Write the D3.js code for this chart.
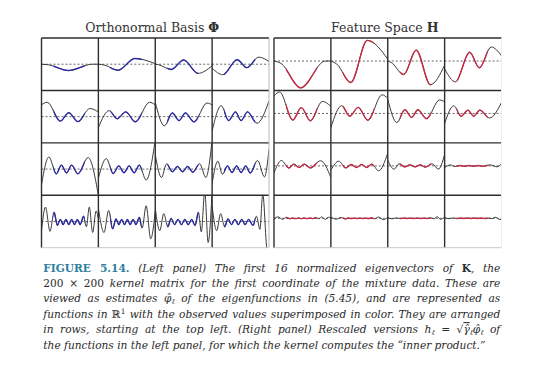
<!DOCTYPE html>
<html>
<head>
<meta charset="utf-8">
<script src="https://cdn.jsdelivr.net/npm/d3@7"></script>
<style>
  body { margin: 0; background: #fff; }
  svg { display: block; }
</style>
</head>
<body>
<svg id="fig" width="540" height="385"></svg>
<script>
// eigenvectors: [x in cell 0..1, value], rows from top left
var phi01 = [[0,0],[0.12,-0.02],[0.47,-0.24],[0.9,0],[1,0]]
var phi02 = [[0,0],[0.1,-0.03],[0.35,-0.23],[0.64,0.22],[1,0.02]]
var phi03 = [[0,0],[0.06,-0.02],[0.28,-0.2],[0.5,0.16],[0.75,-0.35],[1,-0.06]]
var phi04 = [[0,-0.15],[0.19,-0.4],[0.44,0.17],[0.61,-0.13],[0.82,0.27],[1,0.1]]
var phi05 = [[0,0.45],[0.1,0.55],[0.33,-0.17],[0.48,0.15],[0.64,-0.19],[0.85,0.31],[1,0.18]]
var phi06 = [[0,-0.42],[0.19,0.23],[0.33,-0.08],[0.48,0.18],[0.65,-0.2],[0.9,0.55],[1,0.45]]
var phi07 = [[0,0.55],[0.16,-0.35],[0.3,0.14],[0.42,-0.15],[0.53,0.14],[0.68,-0.2],[0.91,0.52],[1,0.45]]
var phi08 = [[0,-0.55],[0.16,0.42],[0.29,-0.15],[0.41,0.18],[0.51,-0.15],[0.62,0.18],[0.79,-0.25],[1,0.6]]
var phi09 = [[0,-0.6],[0.13,0.46],[0.26,-0.18],[0.35,0.15],[0.44,-0.15],[0.53,0.15],[0.64,-0.18],[0.82,0.44],[1,-1.0]]
var phi10 = [[0,-0.35],[0.14,0.4],[0.26,-0.17],[0.36,0.12],[0.45,-0.14],[0.54,0.12],[0.63,-0.14],[0.72,0.15],[0.84,-0.42],[1,1.1]]
var phi11 = [[0,0.55],[0.11,-0.32],[0.2,0.2],[0.3,-0.1],[0.39,0.1],[0.48,-0.1],[0.57,0.1],[0.66,-0.12],[0.78,0.2],[0.89,-0.32],[1,1.1]]
var phi12 = [[0,-0.55],[0.1,0.3],[0.18,-0.2],[0.27,0.12],[0.35,-0.13],[0.43,0.12],[0.51,-0.13],[0.59,0.12],[0.67,-0.15],[0.8,0.33],[0.92,-0.3],[1,0.75]]
var phi13 = [[0,-0.35],[0.07,0.55],[0.15,-0.38],[0.22,0.35],[0.28,-0.15],[0.33,0.08],[0.38,-0.12],[0.43,0.08],[0.48,-0.12],[0.53,0.08],[0.58,-0.12],[0.63,0.08],[0.68,-0.12],[0.74,0.2],[0.79,-0.2],[0.84,0.55],[0.9,-0.42],[0.96,0.4],[1,0.1]]
var phi14 = [[0,0.5],[0.1,-0.42],[0.18,0.42],[0.25,-0.28],[0.31,0.1],[0.36,-0.12],[0.41,0.08],[0.46,-0.12],[0.51,0.08],[0.56,-0.12],[0.61,0.08],[0.66,-0.12],[0.72,0.15],[0.77,-0.25],[0.84,0.6],[0.92,-0.66],[1,0.4]]
var phi15 = [[0,0.5],[0.08,-0.35],[0.15,0.3],[0.22,-0.2],[0.28,0.12],[0.34,-0.12],[0.4,0.08],[0.46,-0.12],[0.52,0.08],[0.58,-0.12],[0.64,0.08],[0.7,-0.15],[0.76,0.35],[0.81,-0.4],[0.87,1.15],[0.93,-0.8],[1,1.2]]
var phi16 = [[0,0.6],[0.08,-0.35],[0.15,0.3],[0.22,-0.2],[0.28,0.1],[0.34,-0.12],[0.4,0.08],[0.46,-0.12],[0.52,0.08],[0.58,-0.12],[0.64,0.08],[0.72,-0.15],[0.78,0.2],[0.84,-0.3],[0.89,1.05],[0.97,-1.1],[1,-1.0]]
var eigenvectors = [phi01, phi02, phi03, phi04, phi05, phi06, phi07, phi08,
                    phi09, phi10, phi11, phi12, phi13, phi14, phi15, phi16]

// sqrt(gamma_l) used to rescale each eigenvector for the right panel
var sqrtGamma = [4.3, 3.6, 2.6, 2.0, 1.5, 1.3, 1.0, 0.7, 0.45, 0.45, 0.4, 0.12, 0.1, 0.08, 0.05, 0.04]

// part of the x range where the observed values sit
var observedRange = [0.21, 0.76]

var panelTitles = ["Orthonormal Basis ", "Feature Space "]
var panelSymbols = ["\u03A6", "H"]
var panelColors = ["#2c2ca4", "#c42a45"]

// caption, one array of [text, style] runs per printed line
var caption1 = [["FIGURE 5.14.", "fig"], [" (Left panel) The first 16 normalized eigenvectors of ", "it"], ["K", "bf"], [", the", "it"]]
var caption2 = [["200 \u00D7 200", "rm"], [" kernel matrix for the first coordinate of the mixture data. These are", "it"]]
var caption3 = [["viewed as estimates ", "it"], ["\u03C6\u0302", "it"], ["\u2113", "sub"], [" of the eigenfunctions in (5.45), and are represented as", "it"]]
var caption4 = [["functions in ", "it"], ["\u211D", "rm"], ["1", "sup"], [" with the observed values superimposed in color. They are arranged", "it"]]
var caption5 = [["in rows, starting at the top left. (Right panel) Rescaled versions ", "it"], ["h", "it"], ["\u2113", "sub"], [" = \u221A", "rm"], ["\u03B3\u0302", "ol"], ["\u2113", "sub"], ["\u03C6\u0302", "it"], ["\u2113", "sub"], [" of", "it"]]
var caption6 = [["the functions in the left panel, for which the kernel computes the \u201Cinner product.\u201D", "it"]]
var captionLines = [caption1, caption2, caption3, caption4, caption5, caption6]

var svg = d3.select("#fig")
var serif = "'DejaVu Serif', 'Liberation Serif', serif"

var panels = [{x0: 41.5, x1: 269}, {x0: 274, x1: 501.5}]
var gridTop = 38, gridBottom = 247.7

var row = d3.scaleLinear().domain([0, 4]).range([gridTop, gridBottom])
var yDomains = [[-1, 1], [-1.13, 0.885]]

var line = d3.line().curve(d3.curveMonotoneX)

panels.forEach(function(p, pi) {
  var col = d3.scaleLinear().domain([0, 4]).range([p.x0, p.x1])
  var g = svg.append("g")

  g.append("text")
    .attr("x", (p.x0 + p.x1) / 2 - 3)
    .attr("y", 31.5)
    .attr("text-anchor", "middle")
    .style("font-family", serif)
    .style("font-size", "12.5px")
    .attr("fill", "#333")
    .text(panelTitles[pi])
    .append("tspan").style("font-weight", "bold").text(panelSymbols[pi])

  eigenvectors.forEach(function(phi, k) {
    var r = Math.floor(k / 4), c = k % 4
    var cx0 = col(c), cx1 = col(c + 1), cy0 = row(r), cy1 = row(r + 1)
    var x = d3.scaleLinear().domain([0, 1]).range([cx0, cx1])
    var y = d3.scaleLinear().domain(yDomains[pi]).range([cy1, cy0])
    var s = pi == 0 ? 1 : sqrtGamma[k]
    var pts = phi.map(function(d) { return [x(d[0]), y(d[1] * s)] })

    var id = "c" + pi + "_" + k
    var defs = g.append("defs")
    defs.append("clipPath").attr("id", id)
      .append("rect").attr("x", cx0).attr("y", cy0).attr("width", cx1 - cx0).attr("height", cy1 - cy0)
    defs.append("clipPath").attr("id", id + "o")
      .append("rect").attr("x", x(observedRange[0])).attr("y", cy0)
      .attr("width", x(observedRange[1]) - x(observedRange[0])).attr("height", cy1 - cy0)

    g.append("line")
      .attr("x1", cx0).attr("x2", cx1).attr("y1", y(0)).attr("y2", y(0))
      .attr("stroke", "#555").attr("stroke-width", 0.9).attr("stroke-dasharray", "2,2")

    g.append("path").attr("d", line(pts))
      .attr("clip-path", "url(#" + id + ")")
      .attr("fill", "none").attr("stroke", "#3a3a3a").attr("stroke-width", 1)
    g.append("path").attr("d", line(pts))
      .attr("clip-path", "url(#" + id + "o)")
      .attr("fill", "none").attr("stroke", panelColors[pi]).attr("stroke-width", 1.4)
  })

  // grid
  d3.range(5).forEach(function(i) {
    g.append("line")
      .attr("x1", p.x0).attr("x2", p.x1).attr("y1", row(i)).attr("y2", row(i))
      .attr("stroke", i == 4 ? "#c8c8c8" : "#2e2e2e").attr("stroke-width", i == 4 ? 1 : 1.4)
    g.append("line")
      .attr("x1", col(i)).attr("x2", col(i)).attr("y1", gridTop).attr("y2", gridBottom)
      .attr("stroke", i == 4 ? (pi == 0 ? "#b8b8b8" : "#eeeeee") : "#2e2e2e")
      .attr("stroke-width", i == 4 ? 1 : 1.4)
  })
})

// caption
var capX = 43.3, capW = 457, capY = 271.5, capStep = 15.4
captionLines.forEach(function(runs, li) {
  var t = svg.append("text")
    .attr("x", capX).attr("y", capY + li * capStep)
    .style("font-family", serif).style("font-size", "10.6px")
    .attr("fill", "#2a2a2a")
  runs.forEach(function(run) {
    var ts = t.append("tspan").text(run[0])
    var st = run[1]
    if (st == "fig") ts.style("font-weight", "bold").attr("fill", "#2f7f9f")
    if (st == "it" || st == "ol") ts.style("font-style", "italic")
    if (st == "bf") ts.style("font-weight", "bold")
    if (st == "ol") ts.style("text-decoration", "overline")
    if (st == "sub") ts.style("font-size", "7.5px").style("font-style", "italic").attr("baseline-shift", "-2")
    if (st == "sup") ts.style("font-size", "7.5px").attr("baseline-shift", "4")
  })
  if (li < captionLines.length - 1) {
    var nat = t.node().getComputedTextLength()
    var txt = runs.map(function(r) { return r[0] }).join("")
    var spaces = txt.split(" ").length - 1
    t.attr("word-spacing", (capW - nat) / spaces)
  }
})
</script>
</body>
</html>
